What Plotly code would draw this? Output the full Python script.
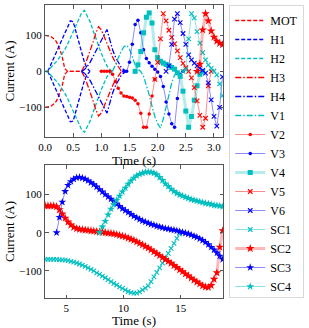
import plotly.graph_objects as go

FONT = "Liberation Serif"
RED, BLUE, CYAN = "#ff0000", "#0000ff", "#00bfbf"
RED_A, BLUE_A, CYAN_A = "rgba(255,0,0,0.45)", "rgba(0,0,255,0.45)", "rgba(0,191,191,0.45)"
RED_W, CYAN_W = "rgba(255,0,0,0.28)", "rgba(0,191,191,0.3)"

# ---------------- data ----------------
STEP_TOP = 0.05   # s, sample spacing of the transport panel
STEP_BOT = 0.25   # s, sample spacing of the science-coil panel

# top panel: (start time, values)  -- coil pairs are drawn as +I / -I
MOT_T0 = 0.00
MOT = [100, 99, 97, 91, 83, 66, 44, 8, 0, 0, 0, 0, 0, 0]
H1_T0 = 0.05
H1 = [0, 18, 38, 55, 70, 88, 105, 122, 140, 138, 110, 80, 50, 25, 8, 0]
H2_T0 = 0.00
H2 = [0, 2, 10, 18, 27, 37, 48, 60, 75, 95, 110, 127, 146, 162, 169, 155, 138,
      115, 92, 72, 50, 32, 15, 5, 0]
H3_T0 = 0.65
H3 = [0, 15, 35, 55, 80, 105, 124, 115, 95, 78, 58, 40, 25, 12, 2, 0]
H4_T0 = 0.65
H4 = [0, 5, 14, 25, 40, 55, 70, 85, 100, 116, 88, 60, 40, 24, 12, 4, 0]
V1_T0 = 1.20
V1 = [0, 18, 38, 55, 68, 72, 62, 40, 18, 6, 0, -14, -38, -65, -97, -125, -145,
      -157, -132, -100, -65, -32, -10, 0]
V2_T0 = 1.00
V2 = [0, 0, 0, 0, -8, -28, -47, -60, -68, -70, -72, -74, -80, -90, -116, -155,
      -155, -118, -68, -22]
V3_T0 = 1.40
V3 = [0, 0, 25, 75, 130, 142, 107, 60, 36, 24, 14, 6, -2, -14, -42, -85, -118,
      -145, -155, -75, -8, 0]
V4_T0 = 1.60
V4 = [0, 18, 55, 107, 150, 162, 134, 60, 38, 28, 23, 19, 15, 11, 6, -4, -14,
      -55, -110, -155, -125, -80, -40, -8, 0]
V5_T0 = 1.95
V5 = [-22, 25, 90, 160, 140, 114, 94, 76, 57, 38, 22, 10, 0, -18, -45, -82,
      -122, -155, -130, -40, 0]
V6_T0 = 2.15
V6 = [0, 15, 75, 145, 160, 135, 105, 75, 46, 32, 23, 15, 9, 3, -5, -32, -79,
      -125, -152, -100, -15]
SC1_TOP_T0 = 2.45
SC1_TOP = [0, 5, 90, 160, 148, 110, 78, 52, 32, 18, 8, 1, -10, -35, -68]
SC2_TOP_T0 = 2.70
SC2_TOP = [0, 20, 115, 160, 140, 112, 95, 84, 78, 74]

# bottom panel
SC1_BOT_T0 = 3.15
SC1_BOT = [-70, -70, -70, -70, -70, -71, -71, -72, -73, -75, -77, -79, -82, -85,
           -88, -92, -96, -100, -105, -109, -114, -118, -123, -128, -133, -137,
           -142, -146, -150, -154, -157, -158, -158, -155, -150, -145, -139,
           -128, -116, -104, -92, -80, -67, -54, -41, -28, -15, -3]
SC2_BOT_T0 = 3.15
SC2_BOT = [70, 70, 70, 70, 68, 60, 49, 38, 28, 20, 14, 11, 9, 8, 7, 6, 5, 4, 3,
           2, 1, 0, -1, -2, -3, -5, -7, -9, -11, -14, -17, -20, -24, -28, -32,
           -36, -40, -45, -50, -55, -60, -65, -70, -75, -80, -86, -91, -97,
           -102, -108, -113, -119, -124, -129, -134, -139, -142, -143, -138,
           -122, -105, -38, 5]
SC3_BOT_T0 = 4.15
SC3_BOT = [0, 40, 80, 108, 124, 134, 140, 144, 145, 143, 140, 136, 131, 126,
           120, 113, 107, 100, 94, 88, 81, 75, 69, 63, 58, 53, 48, 43, 39, 35,
           31, 28, 25, 22, 20, 17, 15, 13, 11, 10, 8, 7, 5, 3, 1, -1, -3, -6,
           -9, -12, -16, -20, -25, -31, -38, -45, -53, -61, -70]
SC4_BOT_T0 = 7.90
SC4_BOT = [0, 15, 30, 47, 62, 74, 85, 96, 107, 117, 127, 136, 143, 149, 153,
           156, 158, 159, 158, 156, 152, 145, 137, 128, 121, 114, 108, 103, 99,
           96, 93, 90, 87, 85, 83, 81, 79, 77, 76, 74, 72, 71, 70, 68]

X_TICKS_TOP = [0.0, 0.5, 1.0, 1.5, 2.0, 2.5, 3.0]
X_TICKS_BOT = [5, 10, 15]
Y_TICKS = [-100, 0, 100]

# ---------------- figure ----------------
fig = go.Figure()


def times(t0, vals, step):
    return [round(t0 + step * i, 4) for i in range(len(vals))]


def add(name, t0, vals, step, panel, show, line, marker=None, pair=False):
    xa, ya = ("x", "y") if panel == 1 else ("x2", "y2")
    t = times(t0, vals, step)
    mode = "lines+markers" if marker else "lines"
    series = [vals, [-v for v in vals]] if pair else [vals]
    for k, v in enumerate(series):
        fig.add_trace(go.Scatter(
            x=t, y=v, name=name, legendgroup=name,
            showlegend=(show and k == 0), mode=mode, line=line,
            marker=marker, xaxis=xa, yaxis=ya))


DASH = "4px,2px"
DASHDOT = "6px,2px,1.5px,2px"

add("MOT", MOT_T0, MOT, STEP_TOP, 1, True, dict(color=RED, width=1.3, dash=DASH), pair=True)
add("H1", H1_T0, H1, STEP_TOP, 1, True, dict(color=BLUE, width=1.3, dash=DASH), pair=True)
add("H2", H2_T0, H2, STEP_TOP, 1, True, dict(color=CYAN, width=1.3, dash=DASH), pair=True)
add("H3", H3_T0, H3, STEP_TOP, 1, True, dict(color=RED, width=1.3, dash=DASHDOT), pair=True)
add("H4", H4_T0, H4, STEP_TOP, 1, True, dict(color=BLUE, width=1.3, dash=DASHDOT), pair=True)
add("V1", V1_T0, V1, STEP_TOP, 1, True, dict(color=CYAN, width=1.3, dash=DASHDOT))

dot_r = dict(symbol="circle", size=3.5, color=RED)
dot_b = dict(symbol="circle", size=3.5, color=BLUE)
sq_c = dict(symbol="square", size=5, color=CYAN)
x_r = dict(symbol="x-thin", size=4.5, color=RED, line=dict(width=1.1, color=RED))
x_b = dict(symbol="x-thin", size=4.5, color=BLUE, line=dict(width=1.1, color=BLUE))
x_c = dict(symbol="x-thin", size=4.5, color=CYAN, line=dict(width=1.1, color=CYAN))
st_r = dict(symbol="star", size=6.5, color=RED)
st_b = dict(symbol="star", size=6, color=BLUE)
st_c = dict(symbol="star", size=6, color=CYAN)

add("V2", V2_T0, V2, STEP_TOP, 1, True, dict(color=RED_A, width=1), dot_r)
add("V3", V3_T0, V3, STEP_TOP, 1, True, dict(color=BLUE_A, width=1), dot_b)
add("V4", V4_T0, V4, STEP_TOP, 1, True, dict(color=CYAN_W, width=3), sq_c)
add("V5", V5_T0, V5, STEP_TOP, 1, True, dict(color=RED_A, width=1), x_r)
add("V6", V6_T0, V6, STEP_TOP, 1, True, dict(color=BLUE_A, width=1), x_b)
add("SC1", SC1_TOP_T0, SC1_TOP, STEP_TOP, 1, True, dict(color=CYAN_A, width=1), x_c)
add("SC2", SC2_TOP_T0, SC2_TOP, STEP_TOP, 1, True, dict(color=RED_W, width=3), st_r)

add("SC1", SC1_BOT_T0, SC1_BOT, STEP_BOT, 2, False, dict(color=CYAN_A, width=1), x_c)
add("SC2", SC2_BOT_T0, SC2_BOT, STEP_BOT, 2, False, dict(color=RED_W, width=3), st_r)
add("SC3", SC3_BOT_T0, SC3_BOT, STEP_BOT, 2, True, dict(color=BLUE_A, width=1), st_b)
add("SC4", SC4_BOT_T0, SC4_BOT, STEP_BOT, 2, True, dict(color=CYAN_A, width=1), st_c)

AX = dict(showline=True, linecolor="#555", linewidth=1.1, mirror="ticks",
          ticks="inside", ticklen=3.5, tickwidth=1, tickcolor="#555",
          showgrid=False, zeroline=False, automargin=False,
          tickfont=dict(family=FONT, size=11, color="black"))
TITLE_FONT = dict(family=FONT, size=13, color="black")

fig.update_layout(
    template="none",
    width=309, height=328,
    margin=dict(l=45, r=81, t=5, b=30),
    paper_bgcolor="white", plot_bgcolor="white",
    hovermode=False,
    font=dict(family=FONT, size=11, color="black"),
    xaxis=dict(AX, domain=[0, 1], anchor="y", range=[0, 3.16],
               tickvals=X_TICKS_TOP, tickformat=".1f",
               title=dict(text="Time (s)", font=TITLE_FONT, standoff=0)),
    yaxis=dict(AX, domain=[0.5495, 1], anchor="x", range=[-182, 184],
               tickvals=Y_TICKS,
               title=dict(text="Current (A)", font=TITLE_FONT, standoff=1)),
    xaxis2=dict(AX, domain=[0, 1], anchor="y2", range=[3.14, 18.68],
                tickvals=X_TICKS_BOT,
                title=dict(text="Time (s)", font=TITLE_FONT, standoff=0)),
    yaxis2=dict(AX, domain=[0, 0.4539], anchor="x2", range=[-171, 177],
                tickvals=Y_TICKS,
                title=dict(text="Current (A)", font=TITLE_FONT, standoff=1)),
    legend=dict(x=1.035, y=1, xanchor="left", yanchor="top",
                bordercolor="#d9d9d9", borderwidth=1, bgcolor="white",
                font=dict(family=FONT, size=12, color="black"),
                tracegroupgap=0, itemwidth=30),
)

fig.write_html(
    "out.html",
    config={"displayModeBar": False, "staticPlot": True},
    post_script="document.body.style.margin='0';document.body.style.overflow='hidden';",
)
